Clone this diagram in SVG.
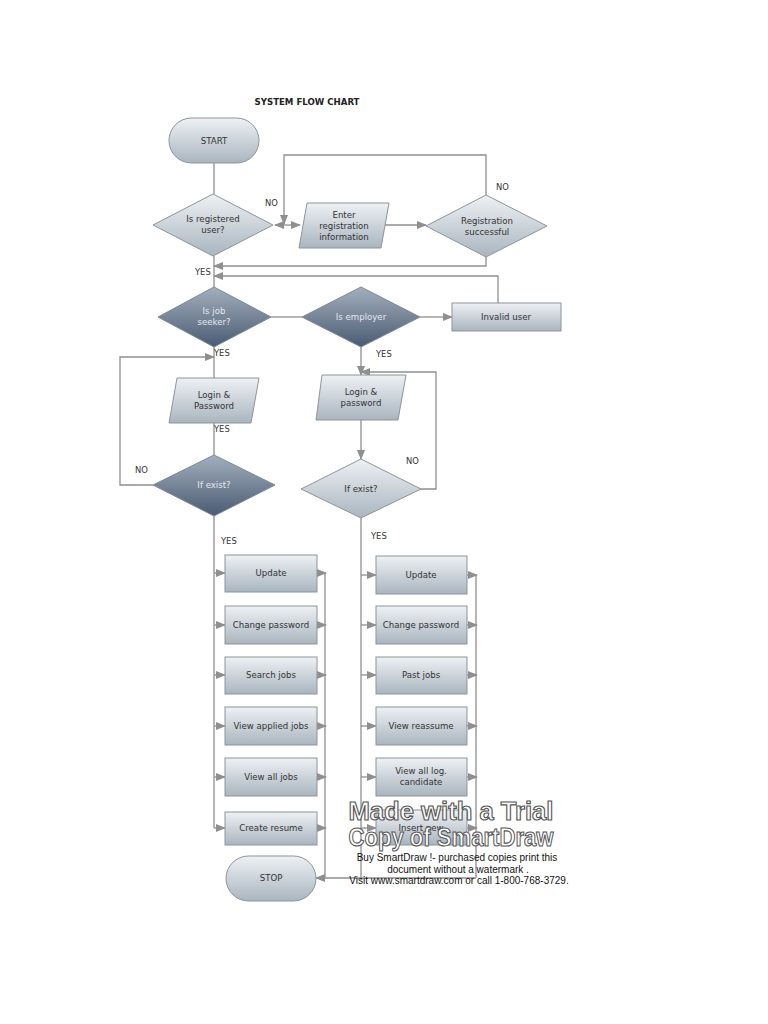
<svg xmlns="http://www.w3.org/2000/svg" width="768" height="1024" viewBox="0 0 768 1024">
<style>
.t{font-family:"DejaVu Sans",Verdana,sans-serif;font-size:8.6px;fill:#333;text-anchor:middle}
.tw{font-family:"DejaVu Sans",Verdana,sans-serif;font-size:8.6px;fill:#e4e8ee;text-anchor:middle}
.lbl{font-family:"DejaVu Sans",Verdana,sans-serif;font-size:8.4px;fill:#333}
.light{fill:url(#gl);stroke:#8d949b;stroke-width:1}
.dark{fill:url(#gd);stroke:#7d8897;stroke-width:1}
.c{fill:none;stroke:#8f8f8f;stroke-width:1.3}
.a{marker-end:url(#ah)}
.wm{font-family:"Liberation Sans",Arial,sans-serif;font-weight:bold;font-size:25px;fill:#fff;stroke:#555;stroke-width:1.1;text-anchor:middle}
.ws{font-family:"Liberation Sans",Arial,sans-serif;font-size:10px;fill:#111;text-anchor:middle}
</style>
<defs>
<linearGradient id="gl" x1="0" y1="0" x2="0" y2="1">
<stop offset="0" stop-color="#eef1f4"/><stop offset="1" stop-color="#a9b5bf"/>
</linearGradient>
<linearGradient id="gd" x1="0" y1="0" x2="0" y2="1">
<stop offset="0" stop-color="#a3afbd"/><stop offset="1" stop-color="#4a5b72"/>
</linearGradient>
<marker id="ah" markerUnits="userSpaceOnUse" markerWidth="10" markerHeight="8" refX="9" refY="4" orient="auto-start-reverse">
<path d="M0,0 L10,4 L0,8 Z" fill="#8f8f8f"/>
</marker>
</defs>
<rect width="768" height="1024" fill="#fff"/>
<text x="307" y="105" font-family="DejaVu Sans,Verdana,sans-serif" font-size="8.6" font-weight="bold" fill="#222" text-anchor="middle">SYSTEM FLOW CHART</text>

<g id="connectors">
<path class="c" d="M214,163 V194"/>
<path class="c" d="M275,225 H300" marker-start="url(#ah)" marker-end="url(#ah)"/>
<path class="c a" d="M486,195 V155 H284 V224"/>
<path class="c a" d="M385,225 H426"/>
<path class="c a" d="M486,257 V266 H214"/>
<path class="c a" d="M498,303 V276 H214"/>
<path class="c" d="M214,256 V287"/>
<path class="c" d="M271,317 H302"/>
<path class="c a" d="M420,317 H452"/>
<path class="c" d="M214,347 V378"/>
<path class="c" d="M214,423 V455"/>
<path class="c a" d="M153,485 H120 V357 H214"/>
<path class="c a" d="M361,347 V375"/>
<path class="c a" d="M361,420 V459"/>
<path class="c a" d="M421,489 H436 V372 H361"/>
<path class="c" d="M214,516 V828"/>
<path class="c a" d="M214,573 H225"/>
<path class="c a" d="M214,625 H225"/>
<path class="c a" d="M214,675 H225"/>
<path class="c a" d="M214,726 H225"/>
<path class="c a" d="M214,777 H225"/>
<path class="c a" d="M214,828 H225"/>
<path class="c a" d="M317,573 H326"/>
<path class="c a" d="M317,625 H326"/>
<path class="c a" d="M317,675 H326"/>
<path class="c a" d="M317,726 H326"/>
<path class="c a" d="M317,777 H326"/>
<path class="c a" d="M317,828 H326"/>
<path class="c" d="M325,573 V878"/>
<path class="c" d="M361,518 V880"/>
<path class="c a" d="M361,575 H376"/>
<path class="c a" d="M361,625 H376"/>
<path class="c a" d="M361,675 H376"/>
<path class="c a" d="M361,726 H376"/>
<path class="c a" d="M361,777 H376"/>
<path class="c a" d="M361,828 H376"/>
<path class="c a" d="M467,575 H477"/>
<path class="c a" d="M467,625 H477"/>
<path class="c a" d="M467,675 H477"/>
<path class="c a" d="M467,726 H477"/>
<path class="c a" d="M467,777 H477"/>
<path class="c a" d="M467,828 H477"/>
<path class="c" d="M476,575 V878"/>
<path class="c a" d="M476,878 H316"/>
</g>

<g id="labels">
<text class="lbl" x="265" y="206">NO</text>
<text class="lbl" x="496" y="190">NO</text>
<text class="lbl" x="195" y="275">YES</text>
<text class="lbl" x="214" y="356">YES</text>
<text class="lbl" x="376" y="357">YES</text>
<text class="lbl" x="214" y="432">YES</text>
<text class="lbl" x="135" y="473">NO</text>
<text class="lbl" x="406" y="464">NO</text>
<text class="lbl" x="221" y="544">YES</text>
<text class="lbl" x="371" y="539">YES</text>
</g>

<g id="start"><rect class="light" x="169" y="118" width="90" height="45" rx="22.5"/><text class="t" x="214" y="144">START</text></g>
<g id="is-registered"><polygon class="light" points="153,225 213,194 273,225 213,256"/><text class="t" x="213" y="222">Is registered</text><text class="t" x="213" y="233">user?</text></g>
<g id="enter-registration"><polygon class="light" points="307,203 389,203 381,248 299,248"/><text class="t" x="344" y="218">Enter</text><text class="t" x="344" y="229">registration</text><text class="t" x="344" y="240">information</text></g>
<g id="registration-successful"><polygon class="light" points="426,226 486,195 547,226 486,257"/><text class="t" x="487" y="224">Registration</text><text class="t" x="487" y="235">successful</text></g>
<g id="is-job-seeker"><polygon class="dark" points="158,317 214,287 271,317 214,347"/><text class="tw" x="214" y="314">Is job</text><text class="tw" x="214" y="325">seeker?</text></g>
<g id="is-employer"><polygon class="dark" points="302,317 361,287 420,317 361,347"/><text class="tw" x="361" y="320">Is employer</text></g>
<g id="invalid-user"><rect class="light" x="452" y="303" width="109" height="28"/><text class="t" x="506" y="320">Invalid user</text></g>
<g id="login-seeker"><polygon class="light" points="177,378 259,378 251,423 169,423"/><text class="t" x="214" y="398">Login &amp;</text><text class="t" x="214" y="409">Password</text></g>
<g id="exist-seeker"><polygon class="dark" points="153,485 214,455 275,485 214,516"/><text class="tw" x="214" y="488">If exist?</text></g>
<g id="login-employer"><polygon class="light" points="322,375 406,375 398,420 316,420"/><text class="t" x="361" y="395">Login &amp;</text><text class="t" x="361" y="406">password</text></g>
<g id="exist-employer"><polygon class="light" points="301,489 361,459 421,489 361,518"/><text class="t" x="361" y="492">If exist?</text></g>

<g id="s-update"><rect class="light" x="225" y="555" width="92" height="37"/><text class="t" x="271" y="576">Update</text></g>
<g id="s-change-password"><rect class="light" x="225" y="606" width="92" height="38"/><text class="t" x="271" y="628">Change password</text></g>
<g id="s-search-jobs"><rect class="light" x="225" y="657" width="92" height="37"/><text class="t" x="271" y="678">Search jobs</text></g>
<g id="s-view-applied"><rect class="light" x="225" y="707" width="92" height="38"/><text class="t" x="271" y="729">View applied jobs</text></g>
<g id="s-view-all"><rect class="light" x="225" y="758" width="92" height="38"/><text class="t" x="271" y="780">View all jobs</text></g>
<g id="s-create-resume"><rect class="light" x="225" y="812" width="92" height="33"/><text class="t" x="271" y="831">Create resume</text></g>

<g id="e-update"><rect class="light" x="376" y="556" width="91" height="38"/><text class="t" x="421" y="578">Update</text></g>
<g id="e-change-password"><rect class="light" x="376" y="606" width="91" height="38"/><text class="t" x="421" y="628">Change password</text></g>
<g id="e-past-jobs"><rect class="light" x="376" y="657" width="91" height="37"/><text class="t" x="421" y="678">Past jobs</text></g>
<g id="e-view-reassume"><rect class="light" x="376" y="707" width="91" height="38"/><text class="t" x="421" y="729">View reassume</text></g>
<g id="e-view-candidate"><rect class="light" x="376" y="758" width="91" height="38"/><text class="t" x="421" y="774">View all log.</text><text class="t" x="421" y="785">candidate</text></g>
<g id="e-insert"><rect class="light" x="376" y="810" width="91" height="35"/><text class="t" x="421" y="831">Insert new</text></g>

<g id="stop"><rect class="light" x="226" y="856" width="90" height="45" rx="22.5"/><text class="t" x="271" y="881">STOP</text></g>

<g id="watermark">
<text class="wm" x="451" y="820" textLength="205" lengthAdjust="spacingAndGlyphs">Made with a Trial</text>
<text class="wm" x="451" y="846" textLength="205" lengthAdjust="spacingAndGlyphs">Copy of SmartDraw</text>
<text class="ws" x="457" y="861">Buy SmartDraw !- purchased copies print this</text>
<text class="ws" x="458" y="873">document without a watermark .</text>
<text class="ws" x="459" y="884">Visit www.smartdraw.com or call 1-800-768-3729.</text>
</g>
</svg>
